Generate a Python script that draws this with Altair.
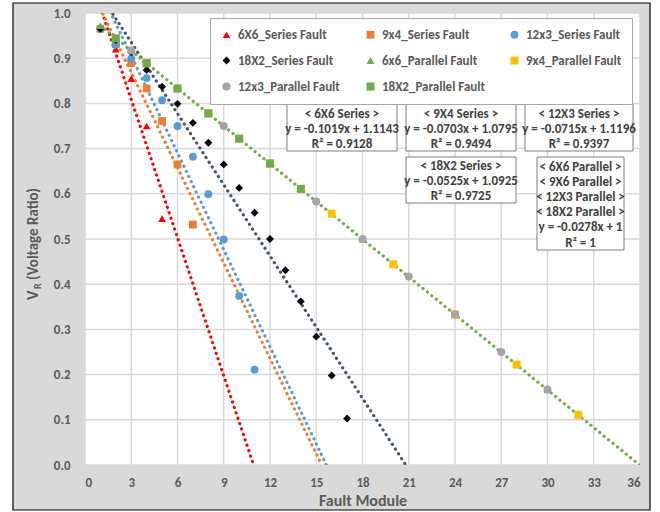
import altair as alt
import pandas as pd

# ---------------- data ----------------
series_names = [
    "6X6_Series Fault", "9x4_Series Fault", "12x3_Series Fault", "18X2_Series Fault",
    "6x6_Parallel Fault", "9x4_Parallel Fault", "12x3_Parallel Fault", "18X2_Parallel Fault",
]
series_colors = ["#FF0000", "#ED7D31", "#5B9BD5", "#000000",
                 "#70AD47", "#FFC000", "#A5A5A5", "#70AD47"]
series_shapes = ["triangle-up", "square", "circle", "diamond",
                 "triangle-up", "square", "circle", "square"]
series_sizes = [60, 65, 85, 55, 60, 65, 85, 75]

x_6x6_s = [1, 2, 3, 4, 5]
y_6x6_s = [0.970, 0.920, 0.855, 0.750, 0.545]
x_9x4_s = [1, 2, 3, 4, 5, 6, 7]
y_9x4_s = [0.965, 0.931, 0.889, 0.833, 0.761, 0.665, 0.532]
x_12x3_s = [1, 2, 3, 4, 5, 6, 7, 8, 9, 10, 11]
y_12x3_s = [0.965, 0.930, 0.899, 0.856, 0.807, 0.750, 0.682, 0.599, 0.499, 0.374, 0.211]
x_18x2_s = [1, 2, 3, 4, 5, 6, 7, 8, 9, 10, 11, 12, 13, 14, 15, 16, 17]
y_18x2_s = [0.965, 0.940, 0.913, 0.874, 0.837, 0.799, 0.757, 0.713, 0.665, 0.613,
            0.558, 0.500, 0.431, 0.362, 0.284, 0.198, 0.103]
x_6x6_p = [1, 6, 12, 18, 24, 30]
y_6x6_p = [0.972, 0.833, 0.667, 0.500, 0.333, 0.167]
x_9x4_p = [4, 8, 12, 16, 20, 24, 28, 32]
y_9x4_p = [0.889, 0.778, 0.667, 0.556, 0.444, 0.333, 0.222, 0.111]
x_12x3_p = [3, 6, 9, 12, 15, 18, 21, 24, 27, 30]
y_12x3_p = [0.917, 0.833, 0.750, 0.667, 0.583, 0.500, 0.417, 0.333, 0.250, 0.167]
x_18x2_p = [2, 4, 6, 8, 10, 12, 14]
y_18x2_p = [0.944, 0.889, 0.833, 0.778, 0.722, 0.667, 0.611]

xs_all = [x_6x6_s, x_9x4_s, x_12x3_s, x_18x2_s, x_6x6_p, x_9x4_p, x_12x3_p, x_18x2_p]
ys_all = [y_6x6_s, y_9x4_s, y_12x3_s, y_18x2_s, y_6x6_p, y_9x4_p, y_12x3_p, y_18x2_p]

# trendlines (Excel linear fits, as labelled in the chart)
trend_names = ["6X6 Series", "9X4 Series", "12X3 Series", "18X2 Series", "Parallel"]
trend_slopes = [-0.1019, -0.0703, -0.0715, -0.0525, -0.0278]
trend_intercepts = [1.1143, 1.0795, 1.1196, 1.0925, 1.0]
trend_colors = ["#FF0000", "#ED7D31", "#5B9BD5", "#44546A", "#70AD47"]
trend_start_x = [1, 1, 1, 1, 1]

# annotation texts
box_texts = [
    ["< 6X6 Series >", "y = -0.1019x + 1.1143", "R² = 0.9128"],
    ["< 9X4 Series >", "y = -0.0703x + 1.0795", "R² = 0.9494"],
    ["< 12X3 Series >", "y = -0.0715x + 1.1196", "R² = 0.9397"],
    ["< 18X2 Series >", "y = -0.0525x + 1.0925", "R² = 0.9725"],
    ["< 6X6 Parallel >", "< 9X6 Parallel >", "< 12X3 Parallel >", "< 18X2 Parallel >",
     "y = -0.0278x + 1", "R² = 1"],
]

x_ticks = list(range(0, 37, 3))
y_ticks = [0.0, 0.1, 0.2, 0.3, 0.4, 0.5, 0.6, 0.7, 0.8, 0.9, 1.0]

# ---------------- layout (pixels, relative to plot origin) ----------------
W, H = 555, 452
FONT = "Carlito, Lato, sans-serif"
TXT = "#404040"
AX = "#595959"
# box rectangles: x, x2, y, y2 ; text centre x, first line y
box_layout = [
    (202, 312, 91, 138, 257, 100.5),
    (321, 431, 91, 138, 376, 100.5),
    (440, 548, 91, 138, 494, 100.5),
    (321, 431, 144, 190, 376, 153),
    (452, 539, 144, 237, 495.5, 154),
]
LINE_H = 15.1

# ---------------- frames ----------------
points_rows = []
for name, xs, ys in zip(series_names, xs_all, ys_all):
    for xv, yv in zip(xs, ys):
        points_rows.append({"series": name, "x": xv, "y": yv})
points_df = pd.DataFrame(points_rows)
points_df["idx"] = range(len(points_df))

trend_rows = []
for name, m, b, c, x0 in zip(trend_names, trend_slopes, trend_intercepts, trend_colors, trend_start_x):
    trend_rows.append({"name": name, "color": c, "x": x0, "y": b + m * x0})
    trend_rows.append({"name": name, "color": c, "x": -b / m, "y": 0.0})
trend_df = pd.DataFrame(trend_rows)

box_rows, text_rows = [], []
for lines, (bx, bx2, by, by2, tx, ty) in zip(box_texts, box_layout):
    box_rows.append({"x": bx, "x2": bx2, "y": by, "y2": by2})
    for i, t in enumerate(lines):
        text_rows.append({"x": tx, "y": ty + i * LINE_H, "t": t})
box_df = pd.DataFrame(box_rows)
text_df = pd.DataFrame(text_rows)

one = pd.DataFrame({"a": [0]})

xscale = alt.Scale(domain=[0, 36], nice=False, zero=False)
yscale = alt.Scale(domain=[0, 1], nice=False)

xaxis = alt.Axis(values=x_ticks, grid=False, ticks=False, domain=False,
                 labelFont=FONT, labelFontSize=13, labelFontWeight="bold",
                 labelColor=AX, labelPadding=11, titleFont=FONT, titleFontSize=16,
                 titleFontWeight="bold", titleColor=AX, titlePadding=3, zindex=1)
yaxis = alt.Axis(values=y_ticks, format=".1f", grid=False, ticks=False, domain=False,
                 labelFont=FONT, labelFontSize=13, labelFontWeight="bold",
                 labelColor=AX, labelPadding=15, zindex=1)

XT = "Fault Module"

# outer grey frame
frame = alt.Chart(one).mark_rect(fill="#D9D9D9", stroke="#000000", strokeWidth=1.2).encode(
    x=alt.value(-72), x2=alt.value(565), y=alt.value(-10), y2=alt.value(497)
)
plot_bg = alt.Chart(one).mark_rect(fill="#FFFFFF").encode(
    x=alt.value(0), x2=alt.value(W), y=alt.value(0), y2=alt.value(H)
)

vgrid = alt.Chart(pd.DataFrame({"v": x_ticks})).mark_rule(color="#D9D9D9", strokeWidth=1.5).encode(
    x=alt.X("v:Q", scale=xscale, axis=xaxis, title=XT)
)
hgrid = alt.Chart(pd.DataFrame({"v": y_ticks})).mark_rule(color="#D9D9D9", strokeWidth=1.5).encode(
    y=alt.Y("v:Q", scale=yscale, axis=yaxis, title=None)
)

trend = alt.Chart(trend_df).mark_line(
    strokeWidth=3.2, strokeDash=[0.1, 5.6], strokeCap="round", clip=True
).encode(
    x=alt.X("x:Q", scale=xscale, axis=xaxis, title=XT),
    y=alt.Y("y:Q", scale=yscale, axis=yaxis, title=None),
    stroke=alt.Stroke("color:N", scale=None),
    detail="name:N",
)

points = alt.Chart(points_df).mark_point(filled=True, opacity=1, strokeWidth=0).encode(
    x=alt.X("x:Q", scale=xscale, axis=xaxis, title=XT),
    y=alt.Y("y:Q", scale=yscale, axis=yaxis, title=None),
    color=alt.Color("series:N", scale=alt.Scale(domain=series_names, range=series_colors),
                    legend=alt.Legend(title=None, orient="none", legendX=125, legendY=5,
                                      columns=3, direction="horizontal", gridAlign="all",
                                      padding=10, rowPadding=12, columnPadding=22,
                                      symbolSize=40, symbolStrokeWidth=0,
                                      labelFont=FONT, labelFontSize=13, labelFontWeight="bold",
                                      labelColor=AX, fillColor="#FFFFFF", strokeColor="#A6A6A6",
                                      labelOffset=5)),
    shape=alt.Shape("series:N", scale=alt.Scale(domain=series_names, range=series_shapes)),
    size=alt.Size("series:N", scale=alt.Scale(domain=series_names, range=series_sizes), legend=None),
    order=alt.Order("idx:Q"),
)

boxes = alt.Chart(box_df).mark_rect(fill="#FFFFFF", stroke="#7F7F7F", strokeWidth=1).encode(
    x=alt.X("x:Q", scale=None), x2="x2:Q", y=alt.Y("y:Q", scale=None), y2="y2:Q"
)
texts = alt.Chart(text_df).mark_text(
    font=FONT, fontSize=13, fontWeight="bold", color=TXT, baseline="middle", align="center"
).encode(x=alt.X("x:Q", scale=None), y=alt.Y("y:Q", scale=None), text="t:N")

# y axis title with subscript
ytitle_v = alt.Chart(one).mark_text(text="V", font=FONT, fontSize=16, fontWeight="bold",
                                    color=AX, angle=270, align="left", baseline="middle").encode(
    x=alt.value(-52), y=alt.value(287))
ytitle_r = alt.Chart(one).mark_text(text="R", font=FONT, fontSize=10, fontWeight="bold",
                                    color=AX, angle=270, align="left", baseline="middle").encode(
    x=alt.value(-47), y=alt.value(276))
ytitle_rest = alt.Chart(one).mark_text(text="(Voltage Ratio)", font=FONT, fontSize=15,
                                       fontWeight="bold", color=AX, angle=270, align="left",
                                       baseline="middle").encode(
    x=alt.value(-52), y=alt.value(267))

chart = alt.layer(
    frame, plot_bg, vgrid, hgrid, trend, points, boxes, texts, ytitle_v, ytitle_r, ytitle_rest
).properties(
    width=W, height=H, autosize=alt.AutoSizeParams(type="none"),
    padding={"left": 85, "top": 13, "right": 20, "bottom": 47},
    background="#FFFFFF",
).configure_view(stroke=None)

chart.save("out.html", embed_options={"renderer": "svg", "actions": False})
